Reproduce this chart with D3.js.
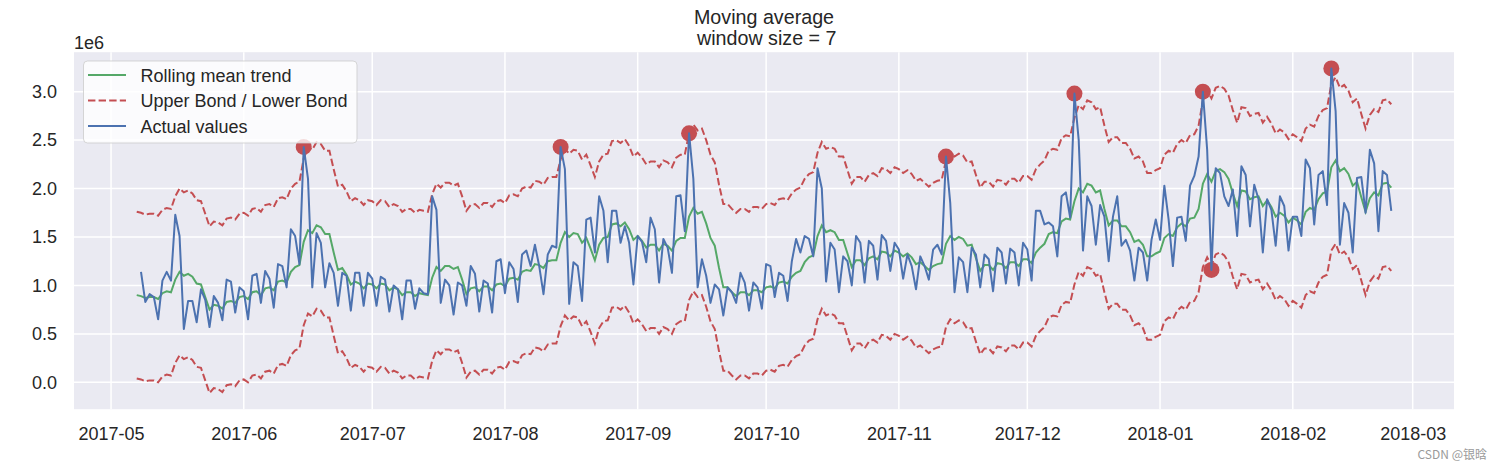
<!DOCTYPE html>
<html><head><meta charset="utf-8">
<script src="https://cdn.jsdelivr.net/npm/d3@7"></script>
<style>
html,body{margin:0;padding:0;background:#fff;}
svg{display:block;font-family:"Liberation Sans",Arial,sans-serif;}
</style></head><body>
<svg id="chart" width="1493" height="465"></svg>
<script>
// ---------- data (values in millions) ----------
const titleLines = ["Moving average", " window size = 7"];
const legendLabels = ["Rolling mean trend", "Upper Bond / Lower Bond", "Actual values"];
const yTickValues = [0, 0.5, 1, 1.5, 2, 2.5, 3];
const yOffsetLabel = "1e6";
const xTickDates = ["2017-05-01","2017-06-01","2017-07-01","2017-08-01","2017-09-01","2017-10-01",
  "2017-11-01","2017-12-01","2018-01-01","2018-02-01","2018-03-01"];
const meanStartDate = "2017-05-07";
const actualStartDate = "2017-05-08";

const rollingMean = [0.90,0.89,0.87,0.88,0.88,0.86,0.92,0.94,0.93,1.06,
1.14,1.10,1.12,1.09,1.02,1.01,0.88,0.75,0.80,0.79,
0.76,0.83,0.84,0.82,0.88,0.89,0.86,0.93,0.94,0.90,
0.97,0.98,0.95,1.04,1.05,1.03,1.14,1.19,1.21,1.45,
1.57,1.54,1.62,1.60,1.53,1.53,1.34,1.16,1.18,1.11,
1.01,1.04,1.02,0.97,1.02,1.01,0.97,1.02,1.01,0.95,
0.98,0.96,0.90,0.93,0.93,0.89,0.92,0.91,0.90,1.08,
1.19,1.15,1.20,1.20,1.17,1.19,1.06,0.91,0.97,0.98,
0.94,0.99,0.99,0.95,1.01,1.02,0.99,1.07,1.08,1.06,
1.14,1.16,1.15,1.22,1.21,1.18,1.25,1.26,1.26,1.44,
1.55,1.50,1.54,1.53,1.44,1.49,1.38,1.26,1.42,1.49,
1.50,1.63,1.64,1.61,1.65,1.58,1.47,1.51,1.46,1.39,
1.42,1.42,1.36,1.43,1.41,1.36,1.46,1.49,1.49,1.71,
1.80,1.74,1.76,1.64,1.49,1.41,1.18,0.98,0.98,0.93,
0.89,0.93,0.93,0.90,0.95,0.95,0.93,0.98,0.99,0.97,
1.03,1.04,1.02,1.09,1.13,1.15,1.24,1.29,1.31,1.51,
1.62,1.55,1.57,1.55,1.47,1.47,1.33,1.19,1.26,1.26,
1.21,1.28,1.30,1.27,1.35,1.34,1.30,1.36,1.34,1.30,
1.33,1.29,1.22,1.24,1.20,1.16,1.20,1.22,1.23,1.43,
1.51,1.47,1.50,1.48,1.41,1.42,1.28,1.15,1.21,1.21,
1.16,1.23,1.22,1.18,1.24,1.24,1.20,1.27,1.27,1.23,
1.34,1.39,1.43,1.53,1.55,1.54,1.66,1.69,1.68,1.87,
2.00,1.96,2.05,2.03,1.96,1.98,1.79,1.62,1.67,1.67,
1.61,1.61,1.55,1.45,1.47,1.42,1.30,1.30,1.33,1.35,
1.49,1.53,1.51,1.60,1.64,1.61,1.69,1.70,1.79,2.05,
2.15,2.07,2.18,2.20,2.17,2.10,1.95,1.82,1.98,1.97,
1.89,1.91,1.92,1.82,1.88,1.81,1.71,1.75,1.72,1.65,
1.70,1.67,1.63,1.76,1.80,1.78,1.89,1.95,1.97,2.22,
2.29,2.18,2.21,2.15,2.03,2.07,1.91,1.76,1.90,1.96,
1.93,2.05,2.06,2.01];

const upperBond = [1.76,1.75,1.73,1.74,1.74,1.72,1.78,1.80,1.79,1.92,
2.00,1.96,1.98,1.95,1.88,1.87,1.74,1.61,1.66,1.65,
1.62,1.69,1.70,1.68,1.74,1.75,1.72,1.79,1.80,1.76,
1.83,1.84,1.81,1.90,1.91,1.89,2.00,2.05,2.07,2.31,
2.43,2.40,2.48,2.46,2.39,2.39,2.20,2.02,2.04,1.97,
1.87,1.90,1.88,1.83,1.88,1.87,1.83,1.88,1.87,1.81,
1.84,1.82,1.76,1.79,1.79,1.75,1.78,1.77,1.76,1.94,
2.05,2.01,2.06,2.06,2.03,2.05,1.92,1.77,1.83,1.84,
1.80,1.85,1.85,1.81,1.87,1.88,1.85,1.93,1.94,1.92,
2.00,2.02,2.01,2.08,2.07,2.04,2.11,2.12,2.12,2.30,
2.41,2.36,2.40,2.39,2.30,2.35,2.24,2.12,2.28,2.35,
2.36,2.49,2.50,2.47,2.51,2.44,2.33,2.37,2.32,2.25,
2.28,2.28,2.22,2.29,2.27,2.22,2.32,2.35,2.35,2.57,
2.66,2.60,2.62,2.50,2.35,2.27,2.04,1.84,1.84,1.79,
1.75,1.79,1.79,1.76,1.81,1.81,1.79,1.84,1.85,1.83,
1.89,1.90,1.88,1.95,1.99,2.01,2.10,2.15,2.17,2.37,
2.48,2.41,2.43,2.41,2.33,2.33,2.19,2.05,2.12,2.12,
2.07,2.14,2.16,2.13,2.21,2.20,2.16,2.22,2.20,2.16,
2.19,2.15,2.08,2.10,2.06,2.02,2.06,2.08,2.09,2.29,
2.37,2.33,2.36,2.34,2.27,2.28,2.14,2.01,2.07,2.07,
2.02,2.09,2.08,2.04,2.10,2.10,2.06,2.13,2.13,2.09,
2.20,2.25,2.29,2.39,2.41,2.40,2.52,2.55,2.54,2.73,
2.86,2.82,2.91,2.89,2.82,2.84,2.65,2.48,2.53,2.53,
2.47,2.47,2.41,2.31,2.33,2.28,2.16,2.16,2.19,2.21,
2.35,2.39,2.37,2.46,2.50,2.47,2.55,2.56,2.65,2.91,
3.01,2.93,3.04,3.06,3.03,2.96,2.81,2.68,2.84,2.83,
2.75,2.77,2.78,2.68,2.74,2.67,2.57,2.61,2.58,2.51,
2.56,2.53,2.49,2.62,2.66,2.64,2.75,2.81,2.83,3.08,
3.15,3.04,3.07,3.01,2.89,2.93,2.77,2.62,2.76,2.82,
2.79,2.91,2.92,2.87];

const lowerBond = [0.04,0.03,0.01,0.02,0.02,0.00,0.06,0.08,0.07,0.20,
0.28,0.24,0.26,0.23,0.16,0.15,0.02,-0.11,-0.06,-0.07,
-0.10,-0.03,-0.02,-0.04,0.02,0.03,0.00,0.07,0.08,0.04,
0.11,0.12,0.09,0.18,0.19,0.17,0.28,0.33,0.35,0.59,
0.71,0.68,0.76,0.74,0.67,0.67,0.48,0.30,0.32,0.25,
0.15,0.18,0.16,0.11,0.16,0.15,0.11,0.16,0.15,0.09,
0.12,0.10,0.04,0.07,0.07,0.03,0.06,0.05,0.04,0.22,
0.33,0.29,0.34,0.34,0.31,0.33,0.20,0.05,0.11,0.12,
0.08,0.13,0.13,0.09,0.15,0.16,0.13,0.21,0.22,0.20,
0.28,0.30,0.29,0.36,0.35,0.32,0.39,0.40,0.40,0.58,
0.69,0.64,0.68,0.67,0.58,0.63,0.52,0.40,0.56,0.63,
0.64,0.77,0.78,0.75,0.79,0.72,0.61,0.65,0.60,0.53,
0.56,0.56,0.50,0.57,0.55,0.50,0.60,0.63,0.63,0.85,
0.94,0.88,0.90,0.78,0.63,0.55,0.32,0.12,0.12,0.07,
0.03,0.07,0.07,0.04,0.09,0.09,0.07,0.12,0.13,0.11,
0.17,0.18,0.16,0.23,0.27,0.29,0.38,0.43,0.45,0.65,
0.76,0.69,0.71,0.69,0.61,0.61,0.47,0.33,0.40,0.40,
0.35,0.42,0.44,0.41,0.49,0.48,0.44,0.50,0.48,0.44,
0.47,0.43,0.36,0.38,0.34,0.30,0.34,0.36,0.37,0.57,
0.65,0.61,0.64,0.62,0.55,0.56,0.42,0.29,0.35,0.35,
0.30,0.37,0.36,0.32,0.38,0.38,0.34,0.41,0.41,0.37,
0.48,0.53,0.57,0.67,0.69,0.68,0.80,0.83,0.82,1.01,
1.14,1.10,1.19,1.17,1.10,1.12,0.93,0.76,0.81,0.81,
0.75,0.75,0.69,0.59,0.61,0.56,0.44,0.44,0.47,0.49,
0.63,0.67,0.65,0.74,0.78,0.75,0.83,0.84,0.93,1.19,
1.29,1.21,1.32,1.34,1.31,1.24,1.09,0.96,1.12,1.11,
1.03,1.05,1.06,0.96,1.02,0.95,0.85,0.89,0.86,0.79,
0.84,0.81,0.77,0.90,0.94,0.92,1.03,1.09,1.11,1.36,
1.43,1.32,1.35,1.29,1.17,1.21,1.05,0.90,1.04,1.10,
1.07,1.19,1.20,1.15];

const actualValues = [1.14,0.83,0.91,0.88,0.65,1.05,1.14,1.05,1.73,1.51,
0.55,0.84,0.84,0.62,0.96,0.85,0.57,0.89,0.82,0.64,
1.06,1.04,0.72,0.98,0.94,0.65,1.10,1.12,0.82,1.15,
1.07,0.77,1.22,1.20,0.98,1.58,1.51,1.22,2.43,2.10,
0.98,1.54,1.44,0.98,1.23,1.13,0.79,1.13,1.10,0.74,
1.13,1.13,0.79,1.13,1.07,0.79,1.09,1.06,0.73,1.00,
0.96,0.65,1.05,1.05,0.76,0.97,0.92,0.91,1.92,1.78,
0.82,1.06,1.00,0.70,1.03,1.00,0.79,1.20,1.12,0.73,
1.05,1.02,0.72,1.25,1.27,0.92,1.24,1.17,0.83,1.32,
1.36,1.20,1.42,1.20,0.91,1.32,1.41,1.39,2.43,2.20,
0.81,1.24,1.20,0.84,1.68,1.70,1.34,1.92,1.77,1.24,
1.77,1.77,1.44,1.61,1.44,1.01,1.51,1.45,1.24,1.70,
1.58,1.03,1.48,1.39,1.13,1.92,1.93,1.56,2.57,2.10,
0.98,1.27,1.10,0.82,1.01,0.96,0.69,0.98,0.93,0.82,
1.13,1.03,0.74,1.03,0.98,0.76,1.22,1.20,0.88,1.13,
1.10,0.84,1.25,1.48,1.34,1.51,1.48,1.30,2.21,2.00,
1.04,1.44,1.37,0.93,1.30,1.25,1.00,1.51,1.44,1.03,
1.46,1.41,1.06,1.52,1.46,1.15,1.44,1.37,1.07,1.32,
1.20,0.96,1.30,1.20,1.06,1.37,1.42,1.32,2.33,1.85,
0.93,1.29,1.24,0.93,1.39,1.32,0.98,1.32,1.27,0.94,
1.39,1.34,1.02,1.38,1.34,1.00,1.44,1.37,1.05,1.77,
1.77,1.63,1.65,1.61,1.30,1.92,1.96,1.70,2.98,2.50,
1.36,1.92,1.82,1.42,1.83,1.71,1.25,1.71,1.92,1.41,
1.47,1.36,1.05,1.39,1.34,1.05,1.47,1.68,1.47,2.03,
1.68,1.20,1.70,1.71,1.46,2.03,2.13,2.33,3.00,2.40,
1.16,2.21,2.16,1.92,1.82,1.99,1.51,2.23,2.14,1.61,
2.04,1.89,1.34,1.89,1.78,1.41,1.92,1.82,1.36,1.71,
1.71,1.51,2.30,2.21,1.63,2.14,2.18,1.83,3.24,2.80,
1.42,1.85,1.75,1.34,2.11,2.12,1.75,2.40,2.26,1.56,
2.18,2.14,1.77];

const anomalyDates = ["2017-06-15","2017-08-14","2017-09-13","2017-11-12","2017-12-12","2018-01-11","2018-01-13","2018-02-10"];
const anomalyValues = [2.43, 2.43, 2.57, 2.33, 2.98, 3.00, 1.16, 3.24];
const watermarkText = "CSDN @银晗";

// ---------- style ----------
const colors = { mean: "#55A868", bond: "#C44E52", actual: "#4C72B0", bg: "#EAEAF2", text: "#262626" };
const plot = { left: 74, right: 1454, top: 52.2, bottom: 409.2 };
const fontMain = "'Liberation Sans', Arial, sans-serif";

// ---------- build ----------
const parse = d3.utcParse("%Y-%m-%d");
const meanStart = parse(meanStartDate), actualStart = parse(actualStartDate);
const meanSeries = rollingMean.map((v, i) => ({ date: d3.utcDay.offset(meanStart, i), value: v }));
const upperSeries = upperBond.map((v, i) => ({ date: d3.utcDay.offset(meanStart, i), value: v }));
const lowerSeries = lowerBond.map((v, i) => ({ date: d3.utcDay.offset(meanStart, i), value: v }));
const actualSeries = actualValues.map((v, i) => ({ date: d3.utcDay.offset(actualStart, i), value: v }));
const anomalies = anomalyDates.map((d, i) => ({ date: parse(d), value: anomalyValues[i] }));

const tMin = meanStart, tMax = actualSeries[actualSeries.length - 1].date;
const tPad = (tMax - tMin) * 0.05;
const x = d3.scaleUtc().domain([new Date(+tMin - tPad), new Date(+tMax + tPad)]).range([plot.left, plot.right]);
const vMin = d3.min(lowerBond), vMax = d3.max([...actualValues, ...upperBond]);
const vPad = (vMax - vMin) * 0.05;
const y = d3.scaleLinear().domain([vMin - vPad, vMax + vPad]).range([plot.bottom, plot.top]);

const svg = d3.select("#chart");
svg.append("rect").attr("width", 1493).attr("height", 465).attr("fill", "#fff");
svg.append("rect").attr("x", plot.left).attr("y", plot.top)
  .attr("width", plot.right - plot.left).attr("height", plot.bottom - plot.top).attr("fill", colors.bg);

const xTicks = xTickDates.map(parse);
// grid
const grid = svg.append("g");
grid.selectAll(".vg").data(xTicks).join("line")
  .attr("x1", d => x(d)).attr("x2", d => x(d)).attr("y1", plot.top).attr("y2", plot.bottom)
  .attr("stroke", "#fff").attr("stroke-width", 1.5);
grid.selectAll(".hg").data(yTickValues).join("line")
  .attr("x1", plot.left).attr("x2", plot.right).attr("y1", d => y(d)).attr("y2", d => y(d))
  .attr("stroke", "#fff").attr("stroke-width", 1.5);

// axes
const xAxis = svg.append("g").attr("transform", `translate(0,${plot.bottom})`)
  .call(d3.axisBottom(x).tickValues(xTicks).tickFormat(d3.utcFormat("%Y-%m")).tickSize(0).tickPadding(18));
const yAxis = svg.append("g").attr("transform", `translate(${plot.left},0)`)
  .call(d3.axisLeft(y).tickValues(yTickValues).tickFormat(d3.format(".1f")).tickSize(0).tickPadding(17));
[xAxis, yAxis].forEach(g => {
  g.select(".domain").remove();
  g.attr("font-family", null).attr("font-size", null);
  g.selectAll("text").attr("fill", colors.text).style("font-size", "18px").style("font-family", fontMain);
});
svg.append("text").attr("x", plot.left).attr("y", 49).attr("fill", colors.text)
  .style("font-size", "18px").style("font-family", fontMain).text(yOffsetLabel);

// title
svg.append("text").attr("text-anchor", "middle").attr("fill", colors.text).style("font-size", "19.7px")
  .style("font-family", fontMain).style("white-space", "pre")
  .selectAll("tspan").data(titleLines).join("tspan")
  .attr("x", (plot.left + plot.right) / 2).attr("y", (d, i) => 24 + i * 20.5).text(d => d);

// lines
const line = d3.line().x(d => x(d.date)).y(d => y(d.value));
const plotG = svg.append("g");
plotG.append("path").datum(meanSeries).attr("d", line).attr("fill", "none")
  .attr("stroke", colors.mean).attr("stroke-width", 2);
[upperSeries, lowerSeries].forEach(s => plotG.append("path").datum(s).attr("d", line).attr("fill", "none")
  .attr("stroke", colors.bond).attr("stroke-width", 2).attr("stroke-dasharray", "7.4,3.2"));
plotG.selectAll("circle").data(anomalies).join("circle")
  .attr("cx", d => x(d.date)).attr("cy", d => y(d.value)).attr("r", 8).attr("fill", colors.bond);
plotG.append("path").datum(actualSeries).attr("d", line).attr("fill", "none")
  .attr("stroke", colors.actual).attr("stroke-width", 2).attr("stroke-linejoin", "round");

// legend
const lg = svg.append("g");
lg.append("rect").attr("x", 83.5).attr("y", 61).attr("width", 273.5).attr("height", 82).attr("rx", 4)
  .attr("fill", "#fff").attr("fill-opacity", 0.8).attr("stroke", "#cccccc").attr("stroke-opacity", 0.8);
const legendStyles = [
  { color: colors.mean, dash: null },
  { color: colors.bond, dash: "7.4,3.2" },
  { color: colors.actual, dash: null }
];
const rows = lg.selectAll(".row").data(legendLabels).join("g")
  .attr("transform", (d, i) => `translate(0,${75 + i * 25.5})`);
rows.append("line").attr("x1", 88).attr("x2", 126).attr("y1", 0).attr("y2", 0)
  .attr("stroke", (d, i) => legendStyles[i].color).attr("stroke-width", 2)
  .attr("stroke-dasharray", (d, i) => legendStyles[i].dash);
rows.append("text").attr("x", 140.5).attr("y", 6.5).attr("fill", colors.text)
  .style("font-size", "18px").style("font-family", fontMain).text(d => d);

// watermark
svg.append("text").attr("x", 1487).attr("y", 459).attr("text-anchor", "end")
  .attr("fill", "#9a9a9a").style("font-size", "12px")
  .style("font-family", "'Noto Sans CJK SC', 'Liberation Sans', sans-serif").text(watermarkText);
</script>
</body></html>
